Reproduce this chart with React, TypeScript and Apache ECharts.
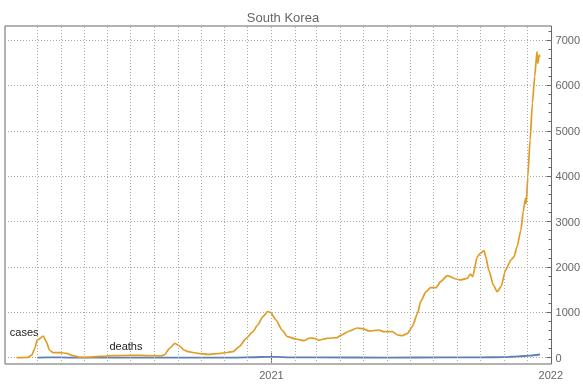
import React, { useEffect, useRef } from 'react';
import * as echarts from 'echarts';

const caseDates = [
  '2020-02-03', '2020-02-18', '2020-02-23', '2020-02-27', '2020-03-01', '2020-03-03', '2020-03-09',
  '2020-03-13', '2020-03-17', '2020-03-22', '2020-03-31', '2020-04-08', '2020-04-17', '2020-04-26',
  '2020-05-04', '2020-05-22', '2020-06-08', '2020-07-04', '2020-07-24', '2020-08-10', '2020-08-14',
  '2020-08-21', '2020-08-28', '2020-09-03', '2020-09-09', '2020-09-14', '2020-09-27', '2020-10-10',
  '2020-10-27', '2020-11-12', '2020-11-20', '2020-11-29', '2020-12-08', '2020-12-14', '2020-12-21',
  '2020-12-27', '2020-12-31', '2021-01-07', '2021-01-15', '2021-01-22', '2021-02-02', '2021-02-13',
  '2021-02-20', '2021-02-26', '2021-03-04', '2021-03-15', '2021-03-28', '2021-04-01', '2021-04-13',
  '2021-04-23', '2021-04-30', '2021-05-09', '2021-05-21', '2021-05-28', '2021-06-08', '2021-06-15',
  '2021-06-21', '2021-06-28', '2021-07-04', '2021-07-11', '2021-07-15', '2021-07-22', '2021-07-28',
  '2021-08-04', '2021-08-10', '2021-08-19', '2021-08-30', '2021-09-05', '2021-09-14', '2021-09-18',
  '2021-09-21', '2021-09-27', '2021-10-01', '2021-10-06', '2021-10-08', '2021-10-12', '2021-10-18',
  '2021-10-23', '2021-10-28', '2021-11-03', '2021-11-10', '2021-11-14', '2021-11-18', '2021-11-23',
  '2021-11-26', '2021-11-29', '2021-11-30', '2021-12-02', '2021-12-05', '2021-12-08', '2021-12-11',
  '2021-12-14', '2021-12-15', '2021-12-17', '2021-12-18',
];
const caseValues = [
  0, 5, 57, 207, 390, 405, 478,
  353, 170, 110, 110, 97, 44, 9,
  9, 31, 44, 53, 45, 40, 60,
  207, 317, 258, 170, 132, 97, 75,
  97, 132, 242, 427, 573, 720, 903,
  1013, 1000, 830, 610, 463, 412, 375,
  434, 427, 383, 427, 441, 485, 588,
  654, 639, 588, 610, 573, 573, 500,
  485, 537, 683, 978, 1234, 1454, 1542,
  1542, 1674, 1807, 1734, 1712, 1749, 1844,
  1785, 2225, 2300, 2357, 2225, 1932, 1602,
  1454, 1564, 1932, 2152, 2225, 2445, 2813,
  3217, 3512, 3402, 3988, 4796, 5605, 6191,
  6742, 6486, 6669, 6632,
];

const deathDates = [
  '2020-03-01', '2020-03-15', '2020-04-01', '2020-04-20', '2020-06-01', '2020-09-01', '2020-11-15',
  '2020-12-10', '2020-12-25', '2021-01-08', '2021-01-25', '2021-03-01', '2021-06-01', '2021-08-15',
  '2021-10-01', '2021-11-01', '2021-11-20', '2021-12-05', '2021-12-18',
];
const deathValues = [1, 5, 5, 2, 1, 2, 3, 10, 20, 20, 8, 5, 3, 6, 8, 12, 30, 45, 70];

const yTickLabels = [0, 1000, 2000, 3000, 4000, 5000, 6000, 7000];
const yearTicks = ['2021-01-01', '2022-01-01'];
const labelNames = ['cases', 'deaths'];

const ts = (s: string) => {
  const [y, m, d] = s.split('-').map(Number);
  return new Date(y, m - 1, d).getTime();
};

export default function App() {
  const ref = useRef<HTMLDivElement>(null);
  useEffect(() => {
    const chart = echarts.init(ref.current!, null, { renderer: 'svg' });
    const font = "'Liberation Sans', Arial, sans-serif";
    const xMin = ts('2020-01-19');
    const xMax = ts('2022-01-02');
    const yMin = -139;
    const yMax = 7308;
    const months: number[] = [];
    for (let y = 2020; y <= 2021; y++) {
      for (let m = 0; m < 12; m++) {
        if (y === 2020 && m < 2) continue;
        months.push(new Date(y, m, 1).getTime());
      }
    }
    const minorTicks: number[] = [];
    for (let v = 200; v < yMax; v += 200) if (v % 1000 !== 0) minorTicks.push(v);
    const gridDot = { color: '#aaa', type: [1, 2] as number[], width: 1 };
    const orange = '#E19C24';
    const blue = '#5E81B5';
    const yearVals = yearTicks.map(ts);

    chart.setOption({
      animation: false,
      textStyle: { fontFamily: font },
      title: {
        text: 'South Korea',
        left: 278,
        textAlign: 'center',
        top: 6,
        textStyle: { fontSize: 13, fontWeight: 'normal', color: '#666', fontFamily: font },
      },
      grid: {
        left: 5, right: 31, top: 26, bottom: 23,
        show: true, borderColor: '#666', borderWidth: 1, containLabel: false,
      },
      xAxis: [
        {
          type: 'value', min: xMin, max: xMax, position: 'bottom',
          axisLine: { show: false },
          axisTick: { show: true, inside: true, length: 5, lineStyle: { color: '#666' }, customValues: yearVals },
          axisLabel: {
            show: true, color: '#666', fontSize: 11, margin: 5, fontFamily: font,
            customValues: yearVals,
            formatter: (v: number) => String(new Date(v).getFullYear()),
          },
          splitLine: { show: false },
        },
        {
          type: 'value', min: xMin, max: xMax, position: 'top',
          axisLine: { show: false },
          axisTick: { show: true, inside: true, length: 5, lineStyle: { color: '#666' }, customValues: yearVals },
          axisLabel: { show: false },
          splitLine: { show: false },
        },
      ],
      yAxis: [
        {
          type: 'value', min: yMin, max: yMax, position: 'right',
          axisLine: { show: false },
          axisTick: { show: true, inside: true, length: 5, lineStyle: { color: '#666' }, customValues: yTickLabels },
          axisLabel: {
            show: true, color: '#666', fontSize: 11, margin: 4, fontFamily: font, customValues: yTickLabels,
            formatter: (v: number) => String(v),
          },
          splitLine: { show: true, lineStyle: gridDot },
        },
        {
          type: 'value', min: yMin, max: yMax, position: 'right',
          axisLine: { show: false },
          axisTick: { show: true, inside: true, length: 3, lineStyle: { color: '#666' }, customValues: minorTicks },
          axisLabel: { show: false },
          splitLine: { show: false },
        },
      ],
      series: [
        {
          type: 'line', name: 'grid', data: [], silent: true, z: 0,
          markLine: {
            silent: true, symbol: ['none', 'none'], label: { show: false },
            lineStyle: gridDot, animation: false,
            data: months.map((m) => ({ xAxis: m })),
          },
        },
        {
          type: 'line', name: 'deaths', showSymbol: false, smooth: 0.2, smoothMonotone: 'x',
          data: deathDates.map((d, i) => [ts(d), deathValues[i]]),
          lineStyle: { color: blue, width: 1.8 }, itemStyle: { color: blue },
          markPoint: {
            symbol: 'circle', symbolSize: 1, itemStyle: { color: 'rgba(0,0,0,0)' },
            label: { show: true, position: 'inside', formatter: labelNames[1], color: '#222', fontSize: 11, fontFamily: font },
            data: [{ coord: [ts('2020-06-25'), 253] }],
          },
        },
        {
          type: 'line', name: 'cases', showSymbol: false, smooth: 0.2, smoothMonotone: 'x',
          data: caseDates.map((d, i) => [ts(d), caseValues[i]]),
          lineStyle: { color: orange, width: 1.7 }, itemStyle: { color: orange },
          markPoint: {
            symbol: 'circle', symbolSize: 1, itemStyle: { color: 'rgba(0,0,0,0)' },
            label: { show: true, position: 'inside', formatter: labelNames[0], color: '#222', fontSize: 11, fontFamily: font },
            data: [{ coord: [ts('2020-02-13'), 566] }],
          },
        },
      ],
    });
    return () => chart.dispose();
  }, []);
  return <div ref={ref} style={{ position: 'fixed', left: 0, top: 0, width: 583, height: 387 }} />;
}
